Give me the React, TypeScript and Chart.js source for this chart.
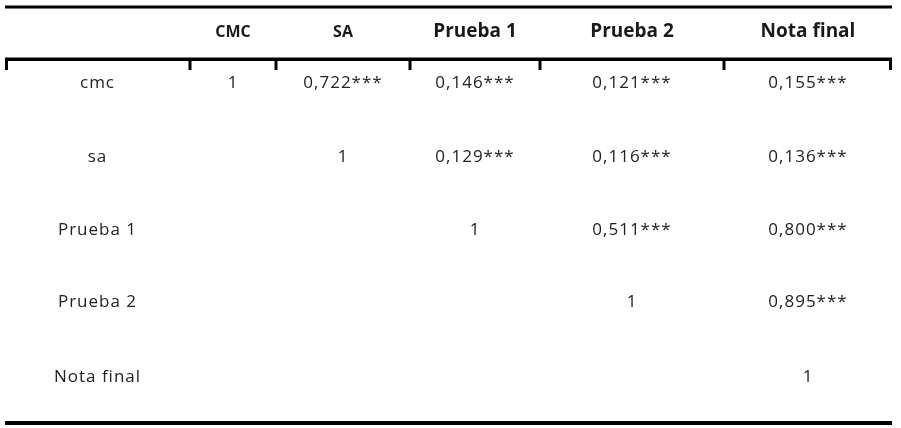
import React, { useEffect, useRef } from "react";
import { Chart, registerables } from "chart.js";

Chart.register(...registerables);

// ---- data ----
const columnLabels = ["CMC", "SA", "Prueba 1", "Prueba 2", "Nota final"];
const rowLabels = ["cmc", "sa", "Prueba 1", "Prueba 2", "Nota final"];
const cmcRow = [1, 0.722, 0.146, 0.121, 0.155];
const saRow = [null, 1, 0.129, 0.116, 0.136];
const prueba1Row = [null, null, 1, 0.511, 0.8];
const prueba2Row = [null, null, null, 1, 0.895];
const notaFinalRow = [null, null, null, null, 1];
const significance = "***";

const matrix = [cmcRow, saRow, prueba1Row, prueba2Row, notaFinalRow];

// ---- layout (not data) ----
const colEdges = [0, 185, 271, 405, 535, 719, 887];
const rowCenters = [25, 76, 150, 223, 295, 370];
const headerRule = 52;
const totalHeight = 418;
const FONT = "'Open Sans', sans-serif";

const colCenter = (j: number) => (colEdges[j] + colEdges[j + 1]) / 2;

const fmt = (v: number) =>
  v === 1 ? "1" : v.toFixed(3).replace(".", ",") + significance;

const headerPoints = columnLabels.map((l, j) => ({ x: colCenter(j + 1), y: rowCenters[0], label: l, small: j < 2 }));
const rowPoints = rowLabels.map((l, i) => ({ x: colCenter(0), y: rowCenters[i + 1], label: l }));
const cellPoints: any[] = [];
matrix.forEach((row, i) =>
  row.forEach((v, j) => {
    if (v !== null) cellPoints.push({ x: colCenter(j + 1), y: rowCenters[i + 1], label: fmt(v as number) });
  })
);

const tablePlugin = {
  id: "tablePlugin",
  afterDatasetsDraw(chart: any) {
    const { ctx, scales } = chart;
    const xs = scales.x;
    const ys = scales.y;
    ctx.save();
    ctx.fillStyle = "#000";
    const left = xs.getPixelForValue(colEdges[0]);
    const right = xs.getPixelForValue(colEdges[colEdges.length - 1]);
    // top rule
    const yTop = ys.getPixelForValue(0);
    ctx.fillRect(left, yTop - 1.5, right - left, 3);
    // header rule with ticks
    const yH = ys.getPixelForValue(headerRule);
    ctx.fillRect(left, yH - 1.5, right - left, 3.5);
    colEdges.forEach((e) => {
      const px = xs.getPixelForValue(e);
      ctx.fillRect(Math.min(Math.max(px - 1.5, left), right - 3), yH, 3, 11);
    });
    // bottom rule
    const yB = ys.getPixelForValue(totalHeight);
    ctx.fillRect(left, yB - 4, right - left, 4);

    // texts
    ctx.textAlign = "center";
    ctx.textBaseline = "middle";
    chart.data.datasets.forEach((ds: any, di: number) => {
      const meta = chart.getDatasetMeta(di);
      meta.data.forEach((el: any, k: number) => {
        const p = ds.data[k];
        if (ds.kind === "header") {
          ctx.font = p.small ? `bold 16px ${FONT}` : `bold 19px ${FONT}`;
          ctx.fillStyle = "#1a1a1a";
          (ctx as any).letterSpacing = "0px";
        } else {
          ctx.font = `17px ${FONT}`;
          ctx.fillStyle = "#222";
          (ctx as any).letterSpacing = "1px";
        }
        ctx.fillText(p.label, el.x, el.y);
      });
    });
    ctx.restore();
  },
};

export default function App() {
  const ref = useRef<HTMLCanvasElement>(null);
  useEffect(() => {
    document.body.style.margin = "0";
    const chart = new Chart(ref.current!, {
      type: "scatter",
      data: {
        datasets: [
          { kind: "header", data: headerPoints, pointRadius: 0 } as any,
          { kind: "row", data: rowPoints, pointRadius: 0 } as any,
          { kind: "cell", data: cellPoints, pointRadius: 0 } as any,
        ],
      },
      options: {
        animation: false,
        responsive: false,
        layout: { padding: { left: 5, right: 9, top: 7, bottom: 3 } },
        plugins: { legend: { display: false }, tooltip: { enabled: false } },
        scales: {
          x: { type: "linear", display: false, min: colEdges[0], max: colEdges[colEdges.length - 1] },
          y: { type: "linear", display: false, reverse: true, min: 0, max: totalHeight },
        },
      },
      plugins: [tablePlugin],
    });
    return () => chart.destroy();
  }, []);
  return (
    <div style={{ width: 901, height: 428, background: "#fff" }}>
      <canvas ref={ref} width={901} height={428} style={{ display: "block" }} />
    </div>
  );
}
